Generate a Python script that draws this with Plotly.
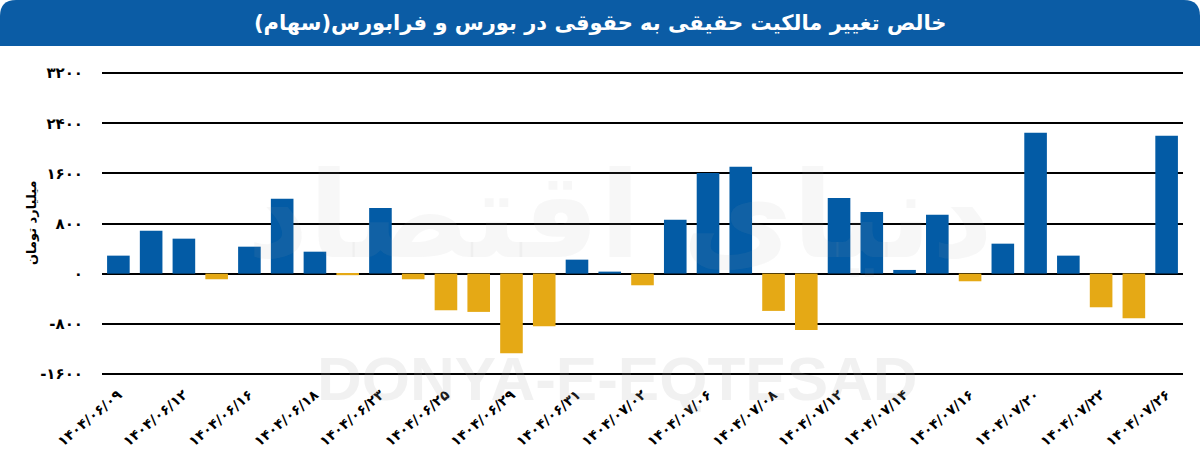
import plotly.graph_objects as go

# dates (Persian calendar) and net individual->institutional flow, billion toman
dates = [
    "۱۴۰۴/۰۶/۰۹", "۱۴۰۴/۰۶/۱۰", "۱۴۰۴/۰۶/۱۲", "۱۴۰۴/۰۶/۱۵", "۱۴۰۴/۰۶/۱۶",
    "۱۴۰۴/۰۶/۱۷", "۱۴۰۴/۰۶/۱۸", "۱۴۰۴/۰۶/۲۲", "۱۴۰۴/۰۶/۲۳", "۱۴۰۴/۰۶/۲۴",
    "۱۴۰۴/۰۶/۲۵", "۱۴۰۴/۰۶/۲۶", "۱۴۰۴/۰۶/۲۹", "۱۴۰۴/۰۶/۳۰", "۱۴۰۴/۰۶/۳۱",
    "۱۴۰۴/۰۷/۰۱", "۱۴۰۴/۰۷/۰۲", "۱۴۰۴/۰۷/۰۵", "۱۴۰۴/۰۷/۰۶", "۱۴۰۴/۰۷/۰۷",
    "۱۴۰۴/۰۷/۰۸", "۱۴۰۴/۰۷/۰۹", "۱۴۰۴/۰۷/۱۲", "۱۴۰۴/۰۷/۱۳", "۱۴۰۴/۰۷/۱۴",
    "۱۴۰۴/۰۷/۱۵", "۱۴۰۴/۰۷/۱۶", "۱۴۰۴/۰۷/۱۹", "۱۴۰۴/۰۷/۲۰", "۱۴۰۴/۰۷/۲۱",
    "۱۴۰۴/۰۷/۲۲", "۱۴۰۴/۰۷/۲۳", "۱۴۰۴/۰۷/۲۶",
]
values = [
    287, 685, 558, -90, 430, 1195, 350, -25, 1047, -90,
    -585, -611, -1270, -840, 223, 32, -186, 861, 1605, 1706,
    -595, -898, 1207, 983, 59, 940, -122, 478, 2248, 287,
    -537, -712, 2200,
]
y_ticks = [-1600, -800, 0, 800, 1600, 2400, 3200]
y_tick_text = ["-۱۶۰۰", "-۸۰۰", "۰", "۸۰۰", "۱۶۰۰", "۲۴۰۰", "۳۲۰۰"]

title = "خالص تغییر مالکیت حقیقی به حقوقی در بورس و فرابورس(سهام)"
y_title = "میلیارد تومان"

BLUE = "#035ba5"
ORANGE = "#e5a915"
FONT = "DejaVu Sans"

W, H = 1200, 453
L, R, T, B = 102, 17, 70, 76


def px_x(p):
    return (p - L) / (W - L - R)


def px_y(p):
    return (H - B - p) / (H - T - B)


def label(text, x, y, **kw):
    fig.add_annotation(text=text, x=px_x(x), y=px_y(y), xref="paper", yref="paper",
                       xanchor="center", yanchor="middle", showarrow=False, **kw)


colors = [BLUE if v >= 0 else ORANGE for v in values]

fig = go.Figure()
fig.add_trace(go.Bar(x=list(range(len(dates))), y=values, marker_color=colors,
                     marker_line_width=0, hoverinfo="y"))

# title banner with rounded top corners
r = 16
x0, x1, y0, y1 = px_x(0), px_x(W), px_y(0), px_y(46)
rx = r / (W - L - R)
ry = r / (H - T - B)
path = (f"M {x0},{y1} L {x0},{y0 - ry} Q {x0},{y0} {x0 + rx},{y0} "
        f"L {x1 - rx},{y0} Q {x1},{y0} {x1},{y0 - ry} L {x1},{y1} Z")
fig.add_shape(type="path", path=path, xref="paper", yref="paper",
              fillcolor="#0b5ca5", line_width=0, layer="above")

label(f"<b>{title}</b>", 600, 23, font=dict(family=FONT, size=21, color="white"))

# watermarks
label("<b>DONYA-E-EQTESAD</b>", 617, 378,
      font=dict(family="Liberation Sans", size=62, color="rgba(170,170,170,0.16)"))
label("<b>دنیای اقتصاد</b>", 620, 215,
      font=dict(family=FONT, size=120, color="rgba(170,170,170,0.09)"))

label(f"<b>{y_title}</b>", 31, 223, textangle=-90, font=dict(family=FONT, size=13, color="black"))

fig.update_layout(
    width=W, height=H,
    margin=dict(l=L, r=R, t=T, b=B, autoexpand=False),
    paper_bgcolor="white", plot_bgcolor="white",
    bargap=0.31, showlegend=False,
    font=dict(family=FONT, color="black"),
    xaxis=dict(range=[-0.5, len(dates) - 0.5], tickmode="array", automargin=False,
               tickvals=list(range(0, len(dates), 2)),
               ticktext=[f"<b>{d}</b>" for d in dates[::2]],
               tickangle=-40, showgrid=False, zeroline=False, showline=False,
               ticks="", ticklabelstandoff=6, tickfont=dict(size=14, family=FONT)),
    yaxis=dict(range=[-1650, 3250], tickmode="array", tickvals=y_ticks, automargin=False,
               ticktext=[f"<b>{t}</b>" for t in y_tick_text],
               showgrid=True, gridcolor="black", gridwidth=1.5,
               zeroline=True, zerolinecolor="black", zerolinewidth=1.5,
               ticks="", ticklabelstandoff=18, tickfont=dict(size=15, family=FONT)),
)

# drop the browser's default body margin so the figure sits at the page corner
fig.write_html("out.html", config={"displayModeBar": False},
               post_script="document.body.style.margin='0';")
